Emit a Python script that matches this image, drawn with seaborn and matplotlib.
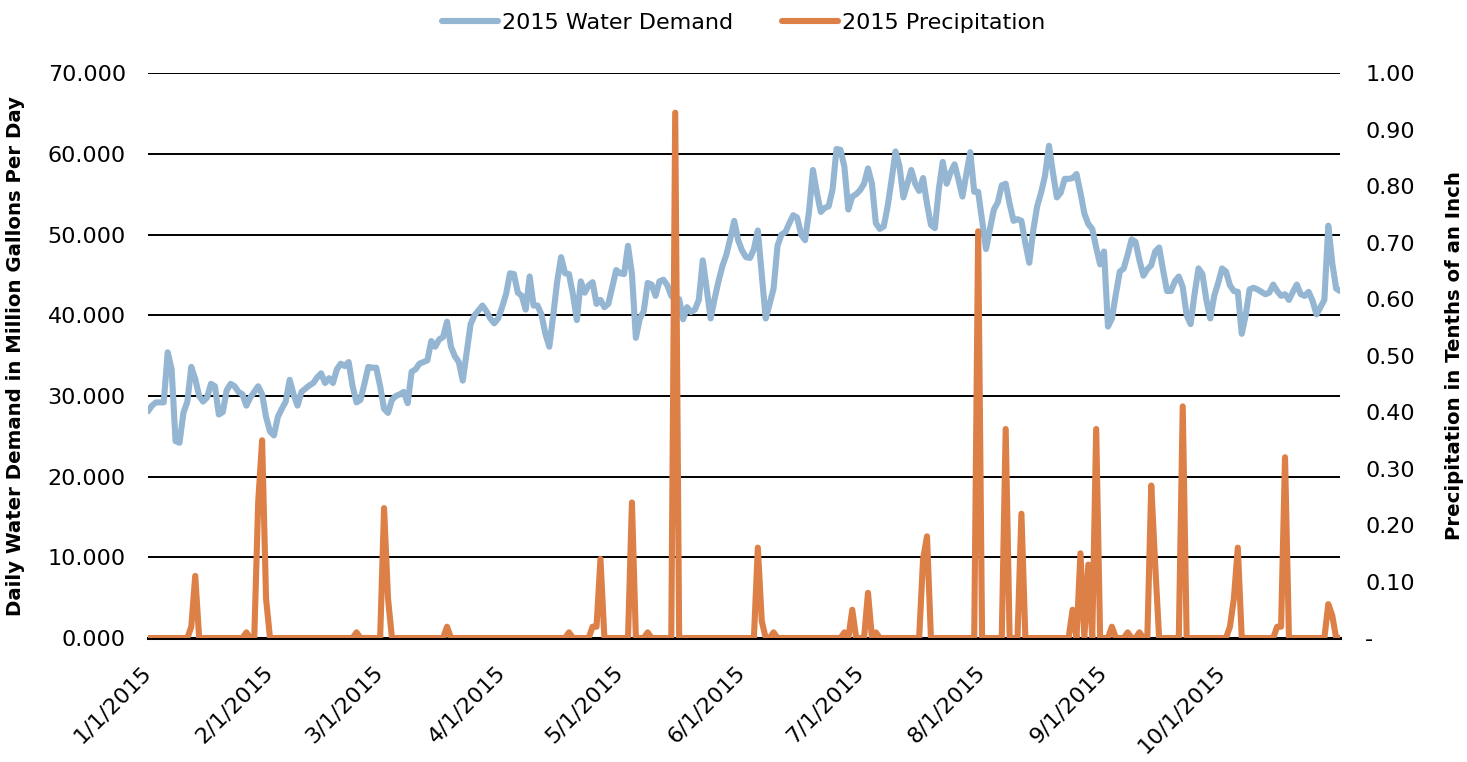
import matplotlib
matplotlib.use("Agg")
import matplotlib.pyplot as plt
import matplotlib.ticker as mticker
import pandas as pd
import seaborn as sns

# ---------------------------------------------------------------------------
# Data
# ---------------------------------------------------------------------------
START_DATE = "2015-01-01"

# daily water demand, million gallons per day, 1/1/2015 .. 10/31/2015
water_demand = [
    # Jan
    28.1, 28.8, 29.2, 29.2, 29.2, 35.4, 33.3, 24.4, 24.2, 27.9, 29.3, 33.6,
    32.1, 30.0, 29.3, 29.8, 31.5, 31.2, 27.7, 28.0, 30.7, 31.5, 31.2, 30.5,
    30.2, 28.8, 29.8, 30.5, 31.2, 30.2, 27.4,
    # Feb
    25.6, 25.1, 27.4, 28.4, 29.3, 32.0, 30.2, 28.8, 30.5, 30.9, 31.3, 31.6,
    32.3, 32.8, 31.6, 32.2, 31.6, 33.3, 34.0, 33.7, 34.2, 31.2, 29.2, 29.5,
    31.5, 33.6, 33.5, 33.5,
    # Mar
    31.2, 28.4, 27.9, 29.5, 30.0, 30.2, 30.5, 29.1, 33.0, 33.3, 34.0, 34.2,
    34.4, 36.8, 36.1, 37.0, 37.3, 39.2, 36.1, 34.9, 34.2, 31.9, 35.4, 38.9,
    40.0, 40.6, 41.2, 40.5, 39.6, 39.0, 39.6,
    # Apr
    41.0, 42.6, 45.2, 45.1, 42.8, 42.4, 40.7, 44.8, 41.2, 41.2, 40.1, 37.7,
    36.1, 40.0, 44.2, 47.2, 45.2, 45.1, 42.6, 39.4, 44.2, 42.8, 43.7, 44.1,
    41.4, 41.9, 41.0, 41.4, 43.5, 45.6,
    # May
    45.2, 45.1, 48.6, 45.1, 37.2, 39.6, 40.5, 44.0, 43.8, 42.4, 44.2, 44.4,
    43.7, 42.4, 41.9, 42.0, 39.5, 41.0, 40.4, 40.7, 41.9, 46.8, 43.3, 39.6,
    42.0, 44.2, 46.1, 47.5, 49.5, 51.7, 49.3,
    # Jun
    48.0, 47.2, 47.1, 48.2, 50.5, 45.0, 39.6, 41.4, 43.3, 48.6, 50.0, 50.3,
    51.4, 52.4, 52.1, 50.0, 49.3, 52.8, 58.0, 55.2, 52.8, 53.3, 53.5, 55.6,
    60.6, 60.5, 58.4, 53.1, 54.7, 55.0,
    # Jul
    55.5, 56.3, 58.2, 56.3, 51.4, 50.7, 51.0, 53.5, 56.8, 60.3, 58.5, 54.6,
    56.3, 58.0, 56.3, 55.4, 57.0, 53.8, 51.2, 50.8, 55.6, 59.0, 56.3, 57.7,
    58.7, 56.8, 54.7, 57.5, 60.2, 55.3, 55.3,
    # Aug
    51.7, 48.2, 50.7, 53.1, 54.0, 56.1, 56.3, 53.8, 51.7, 51.9, 51.7, 48.9,
    46.5, 50.5, 53.5, 55.2, 57.3, 61.0, 57.7, 54.6, 55.2, 56.9, 56.9, 57.0,
    57.5, 55.2, 52.6, 51.3, 50.7, 48.4, 46.3,
    # Sep
    47.9, 38.6, 39.6, 42.6, 45.4, 45.8, 47.5, 49.4, 49.1, 46.8, 44.9, 45.7,
    46.2, 47.9, 48.4, 45.6, 43.0, 43.0, 44.2, 44.8, 43.5, 40.0, 38.9, 42.6,
    45.8, 45.1, 41.9, 39.6, 42.4, 44.0,
    # Oct
    45.8, 45.4, 43.7, 43.0, 42.9, 37.7, 40.0, 43.2, 43.4, 43.2, 42.9, 42.6,
    42.8, 43.8, 43.0, 42.4, 42.6, 41.9, 42.9, 43.8, 42.6, 42.4, 42.9, 41.8,
    40.1, 41.0, 41.9, 51.1, 46.5, 43.3, 43.0,
]

# days with measurable precipitation (all other days are 0)
rain_dates = [
    "2015-01-12", "2015-01-13", "2015-01-26", "2015-01-29", "2015-01-30",
    "2015-01-31", "2015-02-23", "2015-03-02", "2015-03-03", "2015-03-18",
    "2015-04-18", "2015-04-24", "2015-04-25", "2015-04-26", "2015-05-04",
    "2015-05-08", "2015-05-15", "2015-06-05", "2015-06-06", "2015-06-09",
    "2015-06-27", "2015-06-29", "2015-07-03", "2015-07-05", "2015-07-17",
    "2015-07-18", "2015-07-31", "2015-08-07", "2015-08-11", "2015-08-24",
    "2015-08-26", "2015-08-28", "2015-08-30", "2015-09-03", "2015-09-07",
    "2015-09-10", "2015-09-13", "2015-09-14", "2015-09-21", "2015-10-03",
    "2015-10-04", "2015-10-05", "2015-10-15", "2015-10-16", "2015-10-17",
    "2015-10-28", "2015-10-29",
]
rain_inches = [
    0.02, 0.11, 0.01, 0.24, 0.35,
    0.07, 0.01, 0.23, 0.07, 0.02,
    0.01, 0.02, 0.02, 0.14, 0.24,
    0.01, 0.93, 0.16, 0.03, 0.01,
    0.01, 0.05, 0.08, 0.01, 0.14,
    0.18, 0.72, 0.37, 0.22, 0.05,
    0.15, 0.13, 0.37, 0.02, 0.01,
    0.01, 0.27, 0.13, 0.41, 0.02,
    0.07, 0.16, 0.02, 0.02, 0.32,
    0.06, 0.04,
]

month_ticks = ["2015-01-01", "2015-02-01", "2015-03-01", "2015-04-01",
               "2015-05-01", "2015-06-01", "2015-07-01", "2015-08-01",
               "2015-09-01", "2015-10-01"]

BLUE = "#94B6D2"
ORANGE = "#DD8047"

# ---------------------------------------------------------------------------
# Build frame
# ---------------------------------------------------------------------------
dates = pd.date_range(START_DATE, periods=len(water_demand), freq="D")
rain = pd.Series(rain_inches, index=pd.to_datetime(rain_dates))
df = pd.DataFrame({"date": dates, "demand": water_demand})
df["precip"] = rain.reindex(dates, fill_value=0.0).values

# ---------------------------------------------------------------------------
# Plot
# ---------------------------------------------------------------------------
sns.set_theme(style="white")
plt.rcParams["font.family"] = ["DejaVu Sans"]
plt.rcParams["text.color"] = "black"
plt.rcParams["axes.labelcolor"] = "black"
plt.rcParams["xtick.color"] = "black"
plt.rcParams["ytick.color"] = "black"

fig, ax = plt.subplots(figsize=(14.67, 7.62), dpi=100)
fig.subplots_adjust(left=0.1009, right=0.9135, top=0.904, bottom=0.1627)
ax2 = ax.twinx()

ax.set_axisbelow(True)
ax.yaxis.grid(True, color="black", linewidth=1.4)
ax.xaxis.grid(False)

sns.lineplot(data=df, x="date", y="demand", ax=ax, color=BLUE,
             linewidth=4.4, label="2015 Water Demand", legend=False)
sns.lineplot(data=df, x="date", y="precip", ax=ax2, color=ORANGE,
             linewidth=4.4, label="2015 Precipitation", legend=False)

ax.set_ylim(0, 70)
ax.set_yticks(range(0, 71, 10))
ax.yaxis.set_major_formatter(mticker.FuncFormatter(lambda v, p: f"{v:.3f}"))
ax2.set_ylim(0, 1.0)
ax2.set_yticks([i / 10 for i in range(11)])
ax2.yaxis.set_major_formatter(
    mticker.FuncFormatter(lambda v, p: "-" if abs(v) < 1e-9 else f"{v:.2f}"))

ax.set_xlim(dates[0], dates[-1])
tick_dates = pd.to_datetime(month_ticks)
ax.set_xticks(tick_dates)
ax.set_xticklabels([f"{d.month}/{d.day}/{d.year}" for d in tick_dates],
                   rotation=45, ha="right", va="center",
                   rotation_mode="anchor", fontsize=16)

for a in (ax, ax2):
    for side in ("left", "right", "top", "bottom"):
        a.spines[side].set_visible(False)
    a.tick_params(length=0, colors="black")
ax.spines["bottom"].set_visible(True)
ax.spines["bottom"].set_color("black")
ax.spines["bottom"].set_linewidth(2.2)

ax.tick_params(axis="y", labelsize=16, pad=16)
ax.tick_params(axis="x", pad=22)
ax2.tick_params(axis="y", labelsize=16, pad=18)

ax.set_xlabel("")
ax.set_ylabel("Daily Water Demand in Million Gallons Per Day",
              fontsize=14.2, fontweight="bold")
ax.yaxis.set_label_coords(-0.103, 0.5)
ax2.set_ylabel("Precipitation in Tenths of an Inch",
               fontsize=14.2, fontweight="bold")
ax2.yaxis.set_label_coords(1.088, 0.5)

h1, l1 = ax.get_legend_handles_labels()
h2, l2 = ax2.get_legend_handles_labels()
fig.legend(h1 + h2, l1 + l2, loc="center", bbox_to_anchor=(0.507, 0.97),
           ncol=2, frameon=False, fontsize=16, handlelength=2.5,
           columnspacing=2.2, handletextpad=0.2)

fig.savefig("out.png", dpi=100)
